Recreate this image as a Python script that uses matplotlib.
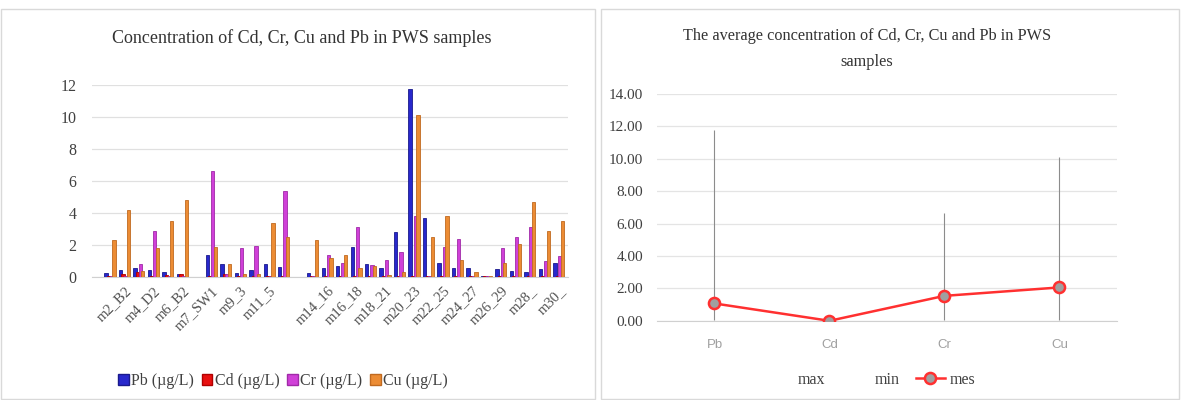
import matplotlib.pyplot as plt
import numpy as np
from matplotlib.patches import Patch, Rectangle
from matplotlib.lines import Line2D

plt.rcParams['font.family'] = ['Liberation Serif', 'DejaVu Serif']

# ------------------------------------------------------------
# DATA - left chart (32 sample slots, two of them empty)
# ------------------------------------------------------------
n_samples = 32
tick_labels = ['m2_B2', 'm4_D2', 'm6_B2', 'm7_SW1', 'm9_3', 'm11_5', '',
               'm14_16', 'm16_18', 'm18_21', 'm20_23', 'm22_25', 'm24_27',
               'm26_29', 'm28_', 'm30_']

pb = [0.25, 0.45, 0.55, 0.45, 0.30, 0.20, 0.0, 1.40, 0.80, 0.25, 0.45, 0.80,
      0.65, 0.0, 0.25, 0.55, 0.70, 1.90, 0.85, 0.60, 2.80, 11.75, 3.70, 0.90,
      0.60, 0.60, 0.05, 0.50, 0.40, 0.30, 0.50, 0.90]
cd = [0.05, 0.20, 0.30, 0.05, 0.15, 0.20, 0.0, 0.05, 0.20, 0.05, 0.05, 0.05,
      0.05, 0.0, 0.10, 0.05, 0.05, 0.05, 0.05, 0.05, 0.05, 0.05, 0.05, 0.05,
      0.05, 0.05, 0.05, 0.05, 0.05, 0.05, 0.05, 0.05]
cr = [0.05, 0.10, 0.80, 2.90, 0.05, 0.10, 0.0, 6.60, 0.20, 1.80, 1.95, 0.10,
      5.40, 0.0, 0.05, 1.40, 0.90, 3.10, 0.75, 1.10, 1.55, 3.80, 0.05, 1.90,
      2.40, 0.10, 0.05, 1.80, 2.50, 3.10, 1.00, 1.30]
cu = [2.33, 4.20, 0.40, 1.80, 3.50, 4.80, 0.0, 1.90, 0.80, 0.20, 0.20, 3.40,
      2.50, 0.0, 2.30, 1.20, 1.40, 0.60, 0.70, 0.15, 0.30, 10.10, 2.50, 3.80,
      1.10, 0.30, 0.05, 0.90, 2.10, 4.70, 2.90, 3.50]

series_names = ['Pb (µg/L)', 'Cd (µg/L)', 'Cr (µg/L)', 'Cu (µg/L)']
face_colors = ['#2828cc', '#e81010', '#d040d8', '#ec8c34']
edge_colors = ['#1a1a8c', '#b00000', '#a02aa8', '#c06a20']

# ------------------------------------------------------------
# DATA - right chart (average / max / min per metal)
# ------------------------------------------------------------
metals = ['Pb', 'Cd', 'Cr', 'Cu']
mean_vals = [1.07, 0.0, 1.54, 2.06]
max_vals = [11.80, 0.0, 6.63, 10.10]
min_vals = [0.05, 0.0, 0.02, 0.05]

# ------------------------------------------------------------
# FIGURE
# ------------------------------------------------------------
fig = plt.figure(figsize=(11.81, 4.0), dpi=100)

# panel borders
for x0, w in [(0.001, 0.503), (0.509, 0.489)]:
    fig.patches.append(Rectangle((x0, 0.003), w, 0.975, transform=fig.transFigure,
                                 fill=False, edgecolor='#d9d9d9', linewidth=1.0))

# ---------------- left chart ----------------
ax1 = fig.add_axes([0.0779, 0.307, 0.403, 0.481])
x = np.arange(n_samples)
step = 0.18
width = 0.23
for i, vals in enumerate([pb, cd, cr, cu]):
    ax1.bar(x + (i - 1.5) * step, vals, width, color=face_colors[i],
            edgecolor=edge_colors[i], linewidth=0.6, zorder=3)

ax1.set_xlim(-1.24, 31.63)
ax1.set_ylim(0, 12)
ax1.set_yticks(np.arange(0, 13, 2))
ax1.yaxis.grid(True, color='#e0e0e0', linewidth=0.9, zorder=0)
ax1.set_xticks(x[1::2])
ax1.set_xticklabels(tick_labels, rotation=45, ha='right', rotation_mode='anchor',
                    fontsize=10.5, color='#505050')
ax1.tick_params(axis='both', length=0)
ax1.tick_params(axis='y', labelsize=11.5, labelcolor='#404040', pad=11)
ax1.tick_params(axis='x', pad=5)
for s in ['top', 'right', 'left']:
    ax1.spines[s].set_visible(False)
ax1.spines['bottom'].set_color('#d0d0d0')

fig.text(302 / 1181, 1 - 38 / 400, 'Concentration of Cd, Cr, Cu and Pb in PWS samples',
         ha='center', va='center', fontsize=13, color='#333333')

handles = [Patch(facecolor=face_colors[i], edgecolor=edge_colors[i]) for i in range(4)]
fig.legend(handles, series_names, loc='center', bbox_to_anchor=(283 / 1181, 1 - 381 / 400),
           ncol=4, frameon=False, fontsize=11.5, handlelength=0.65, handleheight=0.65,
           handletextpad=0.15, columnspacing=0.5, labelcolor='#404040')

# ---------------- right chart ----------------
ax2 = fig.add_axes([0.5563, 0.198, 0.3895, 0.567])
xm = np.arange(len(metals))
ax2.vlines(xm, min_vals, max_vals, color='#8c8c8c', linewidth=0.8, zorder=2)
mes_line, = ax2.plot(xm, mean_vals, color='#ff3030', linewidth=1.8, marker='o',
                     markersize=8, markerfacecolor='#a0a0a0', markeredgecolor='#ff3030',
                     markeredgewidth=1.8, zorder=3)
ax2.set_xlim(-0.5, 3.5)
ax2.set_ylim(0, 14)
ax2.set_yticks(np.arange(0, 15, 2))
ax2.set_yticklabels([f'{v:.2f}' for v in np.arange(0, 15, 2)])
ax2.yaxis.grid(True, color='#e4e4e4', linewidth=0.9, zorder=0)
ax2.set_xticks(xm)
ax2.set_xticklabels(metals, fontsize=9.5, color='#a0a0a0', family=['Liberation Sans'])
ax2.tick_params(axis='both', length=0)
ax2.tick_params(axis='y', labelsize=11, labelcolor='#404040', pad=10)
ax2.tick_params(axis='x', pad=13)
for s in ['top', 'right', 'left']:
    ax2.spines[s].set_visible(False)
ax2.spines['bottom'].set_color('#d0d0d0')

fig.text(867 / 1181, 1 - 49 / 400,
         'The average concentration of Cd, Cr, Cu and Pb in PWS\nsamples',
         ha='center', va='center', fontsize=11.7, color='#333333', linespacing=1.75)

blank = Line2D([], [], linestyle='none')
fig.legend([blank, blank, mes_line], ['max', 'min', 'mes'], loc='center',
           bbox_to_anchor=(870 / 1181, 1 - 380 / 400), ncol=3, frameon=False,
           fontsize=11.5, handlelength=1.8, handletextpad=0.3, columnspacing=1.0,
           labelcolor='#404040')

plt.savefig('out.png', dpi=100)
